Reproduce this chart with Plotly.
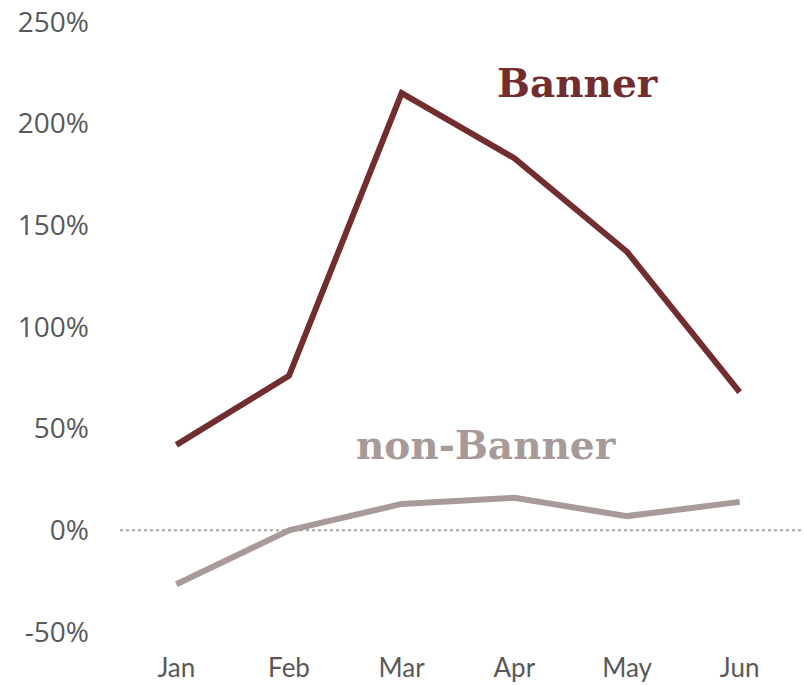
import plotly.graph_objects as go

months = ["Jan", "Feb", "Mar", "Apr", "May", "Jun"]
banner = [0.42, 0.76, 2.15, 1.83, 1.37, 0.68]
non_banner = [-0.265, 0.0, 0.13, 0.16, 0.07, 0.14]
y_ticks = [-0.5, 0, 0.5, 1.0, 1.5, 2.0, 2.5]
y_tick_labels = ["-50%", "0%", "50%", "100%", "150%", "200%", "250%"]

banner_color = "#722D2F"
non_color = "#A89A98"

fig = go.Figure()
fig.add_trace(go.Scatter(x=months, y=non_banner, mode="lines",
                         line=dict(color=non_color, width=6), hoverinfo="skip"))
fig.add_trace(go.Scatter(x=months, y=banner, mode="lines",
                         line=dict(color=banner_color, width=6), hoverinfo="skip"))

fig.add_shape(type="line", xref="paper", yref="y", x0=0, x1=1.01, y0=0, y1=0,
              line=dict(color="#A6A6A6", width=2, dash="dot"), layer="below")

fig.add_annotation(x=3.56, y=2.2, xref="x", yref="y", text="<b>Banner</b>",
                   showarrow=False,
                   font=dict(family="DejaVu Serif", size=39, color=banner_color))
fig.add_annotation(x=2.75, y=0.42, xref="x", yref="y", text="<b>non-Banner</b>",
                   showarrow=False,
                   font=dict(family="DejaVu Serif", size=39, color=non_color))

fig.update_layout(
    width=804, height=686,
    margin=dict(l=120, r=8, t=22, b=54, autoexpand=False),
    plot_bgcolor="white", paper_bgcolor="white",
    showlegend=False,
    xaxis=dict(range=[-0.5, 5.5], showgrid=False, zeroline=False, showline=False,
               automargin=False,
               ticks="", tickfont=dict(family="Lato", size=26, color="#595959"),
               ticklabelstandoff=18),
    yaxis=dict(range=[-0.5, 2.5], tickvals=y_ticks, ticktext=y_tick_labels,
               showgrid=False, zeroline=False, showline=False, ticks="",
               automargin=False,
               tickfont=dict(family="Open Sans", size=28, color="#595959"),
               ticklabelstandoff=30),
)

fig.write_html("out.html")
